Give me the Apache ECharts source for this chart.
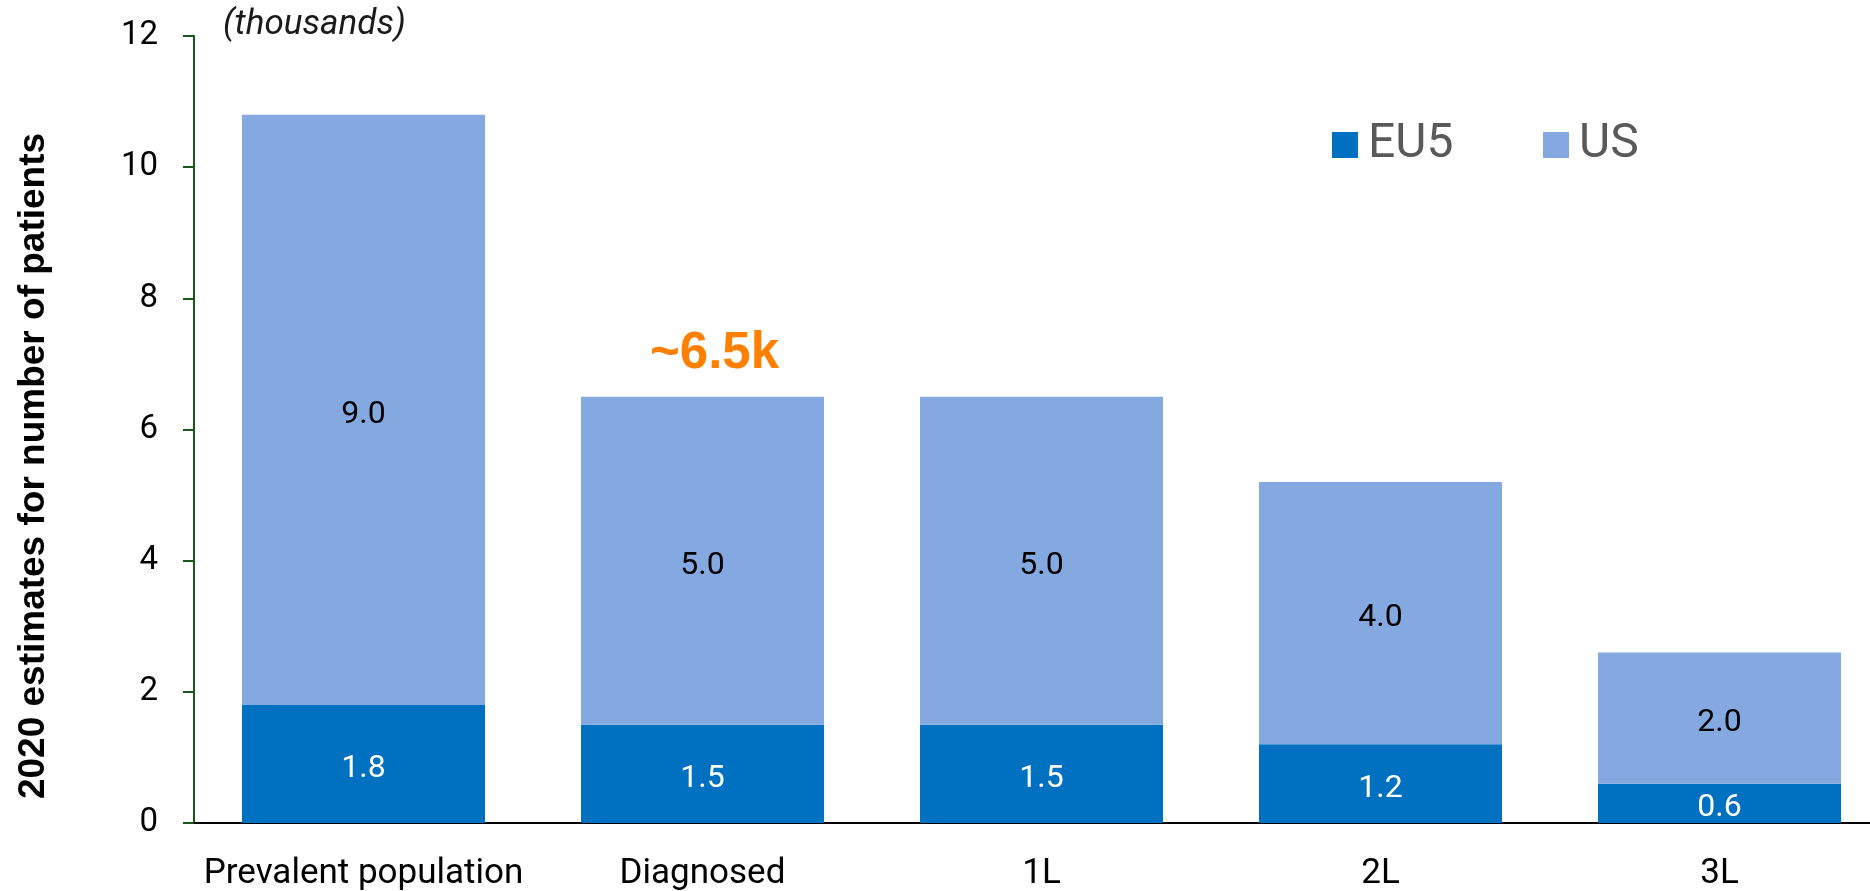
<!DOCTYPE html>
<html>
<head>
<meta charset="utf-8">
<script src="https://cdn.jsdelivr.net/npm/echarts@6/dist/echarts.min.js"></script>
<style>
html,body{margin:0;padding:0;background:#fff;}
#chart{width:1870px;height:891px;}
</style>
</head>
<body>
<div id="chart"></div>
<script>
const categories = ['Prevalent population', 'Diagnosed', '1L', '2L', '3L'];
const eu5Values = [1.8, 1.5, 1.5, 1.2, 0.6];
const usValues = [9.0, 5.0, 5.0, 4.0, 2.0];
const yTicks = [0, 2, 4, 6, 8, 10, 12];
const annotationCategory = 'Diagnosed';
const annotationValue = 6.5;
const annotationText = '~6.5k';
const unitText = '(thousands)';
const yAxisTitle = '2020 estimates for number of patients';

const chart = echarts.init(document.getElementById('chart'), null, {renderer: 'canvas'});
const option = {
  animation: false,
  backgroundColor: '#ffffff',
  grid: {left: 194, width: 1695, top: 36, bottom: 68, containLabel: false, outerBoundsMode: 'none'},
  legend: {
    left: 1327, top: 116,
    icon: 'rect', itemWidth: 26, itemHeight: 26, itemGap: 75,
    data: ['EU5', 'US'],
    textStyle: {fontFamily: 'Roboto', fontSize: 48, color: '#595959', width: 100, padding: [0,0,0,5], lineHeight: 48}
  },
  xAxis: {
    type: 'category', data: categories,
    axisLine: {lineStyle: {color: '#000', width: 2}},
    axisTick: {show: false},
    axisLabel: {fontFamily: 'Roboto', fontSize: 35, color: '#000', margin: 34, interval: 0}
  },
  yAxis: {
    type: 'value', min: yTicks[0], max: yTicks[yTicks.length-1], interval: 2,
    axisLine: {show: true, lineStyle: {color: '#16581a', width: 2}},
    axisTick: {show: true, inside: false, length: 11, lineStyle: {color: '#16581a', width: 2}},
    splitLine: {show: false},
    axisLabel: {fontFamily: 'Roboto', fontSize: 33, color: '#000', margin: 36}
  },
  series: [
    {
      name: 'EU5', type: 'bar', stack: 'total', data: eu5Values, barWidth: 243,
      itemStyle: {color: '#0070c0'},
      label: {show: true, position: 'inside', offset: [0, 5], color: '#fff', fontFamily: 'Roboto', fontSize: 32,
        formatter: p => p.value.toFixed(1)}
    },
    {
      name: 'US', type: 'bar', stack: 'total', data: usValues, barWidth: 243,
      itemStyle: {color: '#84a9e0'},
      label: {show: true, position: 'inside', offset: [0, 5], color: '#000', fontFamily: 'Roboto', fontSize: 32,
        formatter: p => p.value.toFixed(1)},
      markPoint: {
        symbol: 'circle', symbolSize: 0,
        data: [{coord: [annotationCategory, annotationValue], value: annotationText}],
        label: {show: true, position: 'inside', offset: [12, -43], formatter: annotationText,
          color: '#ff8000', fontFamily: 'Liberation Sans', fontWeight: 'bold', fontSize: 51}
      }
    }
  ],
  graphic: [
    {type: 'text', left: 223, top: 8, style: {text: unitText, font: 'italic 35px Roboto', fill: '#1a1a1a'}},
    {type: 'text', x: 34, y: 466, rotation: Math.PI/2,
     style: {text: yAxisTitle, font: 'bold 37px "Liberation Sans"', fill: '#000', textAlign: 'center', textVerticalAlign: 'middle'}}
  ]
};
chart.setOption(option);
</script>
</body>
</html>
